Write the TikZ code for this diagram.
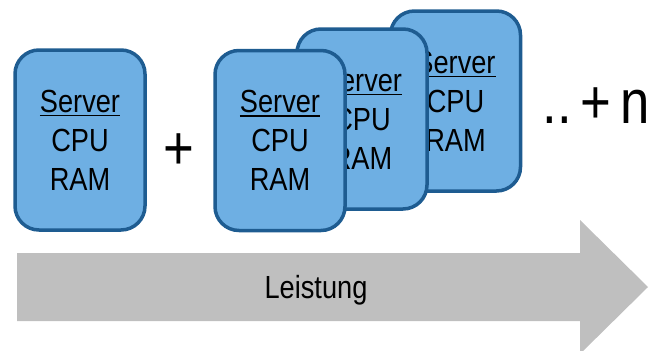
\documentclass[tikz,border=0pt]{standalone}
\usepackage{fontspec}
\setmainfont[FakeStretch=0.85]{Liberation Sans}
\definecolor{srvfill}{RGB}{110,175,227}
\definecolor{srvborder}{RGB}{30,92,145}
\definecolor{arrowgray}{RGB}{191,191,191}
\newcommand\myul[1]{\setbox0\hbox{#1}\rlap{\rule[-4pt]{\wd0}{1.3pt}}\box0}
\begin{document}
\begin{tikzpicture}[x=1pt,y=-1pt,
  srv/.style={draw=srvborder, line width=3.5pt, fill=srvfill, rounded corners=24pt,
    minimum width=130pt, minimum height=180pt, align=center, inner sep=0pt,
    font=\fontsize{32}{39}\selectfont},
  big/.style={font=\fontsize{62}{70}\selectfont, inner sep=0pt, anchor=base},
  lbl/.style={font=\fontsize{32}{39}\selectfont, inner sep=0pt, anchor=base}]
\useasboundingbox (0,0) rectangle (654,351);
% arrow
\fill[arrowgray] (17,253) -- (580,253) -- (580,220) -- (648,287) -- (580,354) -- (580,321) -- (17,321) -- cycle;
\node[lbl] (leistung) at (316,298) {Leistung};
% servers
\node[srv] (s1) at (80,140) {\myul{Server}\\CPU\\RAM};
\node[srv] (s4) at (455.5,101) {\myul{Server}\\CPU\\RAM};
\node[srv] (s3) at (362,119) {\myul{Server}\\CPU\\RAM};
\node[srv] (s2) at (280,140.5) {\myul{Server}\\CPU\\RAM};
% operators
\node[big] (plus) at (179,169) {+};
\node[big, anchor=base east] (more) at (650,123) {..\hspace{9pt}+\hspace{9pt}n};
\end{tikzpicture}
\end{document}
